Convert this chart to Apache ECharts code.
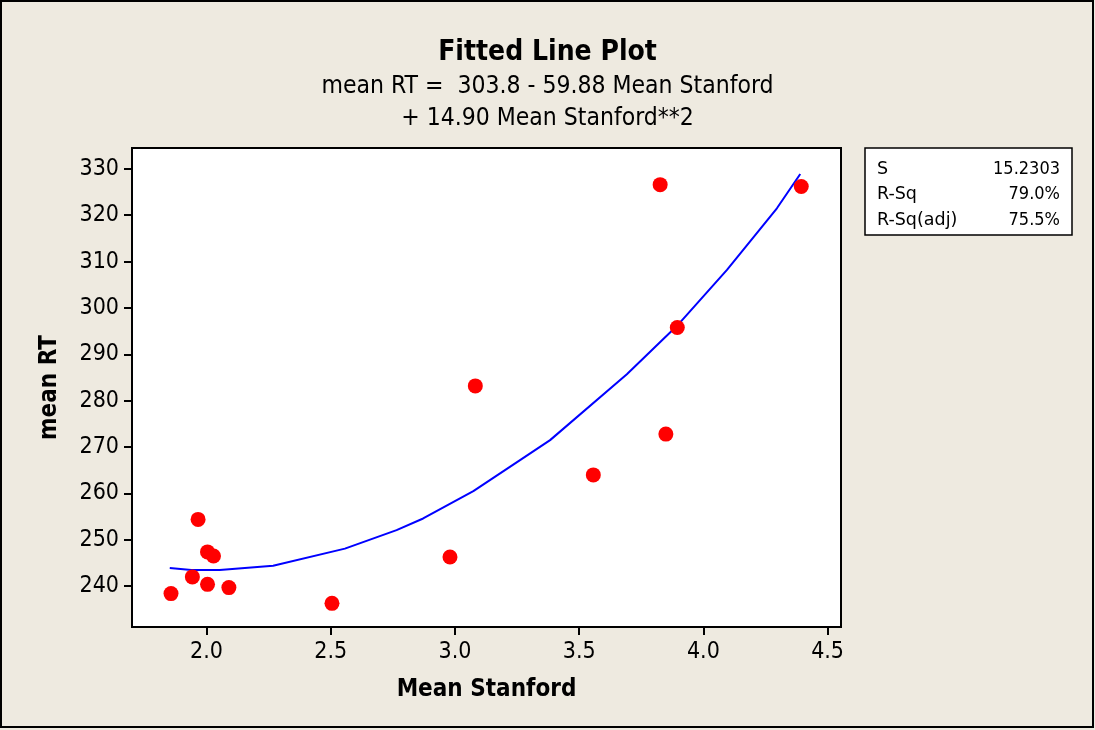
<!DOCTYPE html>
<html><head><meta charset="utf-8">
<script src="https://cdn.jsdelivr.net/npm/echarts@6/dist/echarts.min.js"></script>
<style>html,body{margin:0;padding:0;background:#EEEAE0;}#c{width:1095px;height:730px;}</style>
</head><body><div id="c"></div>
<script>
// Observed data (Mean Stanford, mean RT)
const meanStanford = [1.857, 1.943, 1.966, 2.004, 2.028, 2.004, 2.090, 2.505, 2.980, 3.082, 3.557, 3.826, 3.849, 3.895, 4.394];
const meanRT       = [238.4, 242.0, 254.4, 247.4, 246.5, 240.4, 239.7, 236.3, 246.3, 283.2, 264.0, 326.6, 272.8, 295.8, 326.2];
// Fitted curve vertices
const fitX = [1.852, 1.939, 2.053, 2.268, 2.557, 2.765, 2.872, 3.074, 3.262, 3.383, 3.692, 3.893, 4.095, 4.296, 4.390];
const fitY = [243.9, 243.5, 243.5, 244.4, 248.1, 252.1, 254.6, 260.5, 267.2, 271.5, 285.7, 296.1, 308.2, 321.5, 328.9];
const xTicks = [2.0, 2.5, 3.0, 3.5, 4.0, 4.5];
const yTicks = [240, 250, 260, 270, 280, 290, 300, 310, 320, 330];
const statLabels = ["S", "R-Sq", "R-Sq(adj)"];
const statValues = ["15.2303", "79.0%", "75.5%"];

const FONT = "'DejaVu Sans Condensed', 'DejaVu Sans', sans-serif";
const FONT_WIDE = "'DejaVu Sans', sans-serif";
const chart = echarts.init(document.getElementById('c'));
const statTitles = [];
statLabels.forEach((l, i) => {
  statTitles.push({text: l, left: 877, top: 160 + i*25.6, padding: 0,
    textStyle: {fontFamily: FONT_WIDE, fontWeight: 'normal', fontSize: 17.5, color: '#000'}});
  statTitles.push({text: statValues[i], right: 1095 - 1060, top: 160 + i*25.6, padding: 0,
    textStyle: {fontFamily: FONT, fontWeight: 'normal', fontSize: 18, color: '#000'}});
});

chart.setOption({
  backgroundColor: '#EEEAE0',
  animation: false,
  title: [
    {text: 'Fitted Line Plot', left: 'center', top: 34, textStyle:{fontFamily: FONT, fontWeight:'bold', fontSize: 28, color:'#000'}},
    {text: 'mean RT =  303.8 - 59.88 Mean Stanford', left: 'center', top: 69, textStyle:{fontFamily: FONT, fontWeight:'normal', fontSize: 24.5, color:'#000'}},
    {text: '+ 14.90 Mean Stanford**2', left: 'center', top: 101, textStyle:{fontFamily: FONT, fontWeight:'normal', fontSize: 24.5, color:'#000'}},
    ...statTitles
  ],
  grid: {left: 132, top: 148, width: 709, height: 479, show: true, backgroundColor: '#fff', borderColor: '#000', borderWidth: 2},
  xAxis: {
    type: 'value', min: 1.700, max: 4.554,
    name: 'Mean Stanford', nameLocation: 'middle', nameGap: 51,
    nameTextStyle: {fontFamily: FONT, fontWeight: 'bold', fontSize: 24, color: '#000'},
    axisLine: {show: true, lineStyle: {color: '#000', width: 2}},
    axisTick: {show: true, length: 8, lineStyle: {color: '#000', width: 2}, customValues: xTicks},
    axisLabel: {fontFamily: FONT, fontSize: 23, color: '#000', margin: 14, customValues: xTicks, formatter: v => v.toFixed(1)},
    splitLine: {show: false}
  },
  yAxis: {
    type: 'value', min: 231.2, max: 334.5,
    name: 'mean RT', nameLocation: 'middle', nameGap: 70, nameRotate: 90,
    nameTextStyle: {fontFamily: FONT, fontWeight: 'bold', fontSize: 24, color: '#000'},
    axisLine: {show: true, lineStyle: {color: '#000', width: 2}},
    axisTick: {show: true, length: 8, lineStyle: {color: '#000', width: 2}, customValues: yTicks},
    axisLabel: {fontFamily: FONT, fontSize: 23, color: '#000', margin: 13, customValues: yTicks},
    splitLine: {show: false}
  },
  series: [
    {type: 'line', data: fitX.map((x, i) => [x, fitY[i]]), showSymbol: false, smooth: false,
     lineStyle: {color: '#0000FF', width: 2}, z: 2},
    {type: 'scatter', data: meanStanford.map((x, i) => [x, meanRT[i]]), symbol: 'circle', symbolSize: 15,
     itemStyle: {color: '#FF0000', opacity: 1}, z: 3}
  ],
  graphic: [
    {type:'rect', shape:{x:1, y:1, width:1092, height:726}, style:{fill:'none', stroke:'#000', lineWidth:2}, silent:true, z: -1},
    {type:'rect', shape:{x:865, y:148, width:207, height:87}, style:{fill:'#fff', stroke:'#000', lineWidth:1.5}, z: -1}
  ]
});
</script></body></html>
